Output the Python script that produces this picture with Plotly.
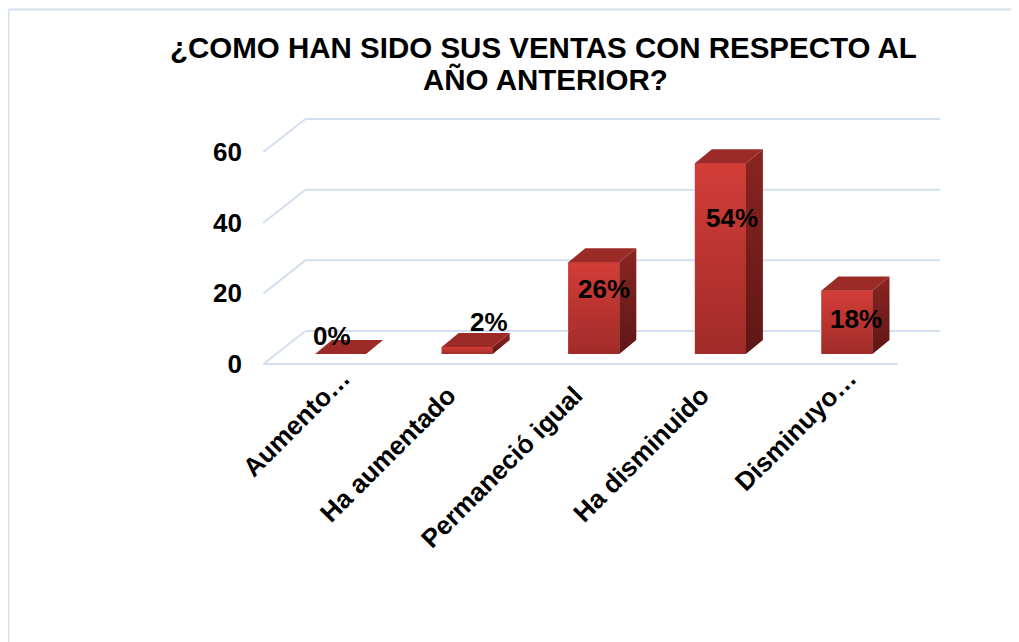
import plotly.graph_objects as go

# ---------------- data ----------------
categories = ["Aumento…", "Ha aumentado", "Permaneció igual", "Ha disminuido", "Disminuyo…"]
values = [0, 2, 26, 54, 18]
value_labels = ["0%", "2%", "26%", "54%", "18%"]
y_ticks = [0, 20, 40, 60]
title_lines = ["¿COMO HAN SIDO SUS VENTAS CON RESPECTO AL", "AÑO ANTERIOR?"]

# ---------------- geometry (pseudo 3D) ----------------
OFF = 8                                       # page body margin
W, H = 1019 - OFF, 642 - OFF
PL, PR, PT, PB = 263 - OFF, 946 - OFF, 110 - OFF, 382 - OFF   # plot area (figure px)
X0_PX, SX = 328.0 - OFF, 126.6               # pixel of x=0 on front plane, px per category
Y0_PX, SY = 364.0 - OFF, 3.533               # pixel of y=0 on front plane, px per unit
x_range = [(PL - X0_PX) / SX, (PR - X0_PX) / SX]
y_range = [(Y0_PX - PB) / SY, (Y0_PX - PT) / SY]

DDX = 42 / SX        # full depth shift in x units
DDY = 33 / SY        # full depth shift in y units
FLOOR_L, FLOOR_R = -0.51, 4.5
BAR_D0 = 0.30        # relative depth of bar front face
BAR_W = 51 / SX
BAR_DX = 17 / SX
BAR_DY = 14 / SY

GRID = "#D3DEEF"
FONT = "Liberation Sans, Arial, sans-serif"

fig = go.Figure()

# ---- walls / gridlines ----
for t in y_ticks:
    fig.add_trace(go.Scatter(x=[FLOOR_L + DDX, FLOOR_R + DDX], y=[t + DDY, t + DDY],
                             mode="lines", line=dict(color=GRID, width=2),
                             hoverinfo="skip", showlegend=False, cliponaxis=False))
    fig.add_trace(go.Scatter(x=[FLOOR_L, FLOOR_L + DDX], y=[t, t + DDY],
                             mode="lines", line=dict(color=GRID, width=2),
                             hoverinfo="skip", showlegend=False, cliponaxis=False))
fig.add_trace(go.Scatter(x=[FLOOR_L, FLOOR_R], y=[0, 0], mode="lines",
                         line=dict(color=GRID, width=2), hoverinfo="skip",
                         showlegend=False, cliponaxis=False))

# ---- bars ----
xc = [i + DDX * BAR_D0 for i in range(len(values))]
base = DDY * BAR_D0
fig.add_trace(go.Bar(x=xc, y=values, base=base, width=BAR_W,
                     marker=dict(color="#B8322E", line=dict(width=0)),
                     hoverinfo="skip", showlegend=False))

for i, v in enumerate(values):
    xl, xr = xc[i] - BAR_W / 2, xc[i] + BAR_W / 2
    top = base + v
    if v > 0:
        fig.add_trace(go.Scatter(x=[xl, xr, xr, xl, xl], y=[base, base, top, top, base],
                                 mode="lines", line=dict(width=0), fill="toself",
                                 fillgradient=dict(type="vertical",
                                                   colorscale=[[0, "#A02B28"], [1, "#D33D38"]]),
                                 hoverinfo="skip", showlegend=False))
        fig.add_trace(go.Scatter(x=[xr, xr + BAR_DX, xr + BAR_DX, xr, xr],
                                 y=[base, base + BAR_DY, top + BAR_DY, top, base],
                                 mode="lines", line=dict(width=0), fill="toself",
                                 fillgradient=dict(type="vertical",
                                                   colorscale=[[0, "#5E1715"], [1, "#8A2522"]]),
                                 hoverinfo="skip", showlegend=False))
    fig.add_trace(go.Scatter(x=[xl, xr, xr + BAR_DX, xl + BAR_DX, xl],
                             y=[top, top, top + BAR_DY, top + BAR_DY, top],
                             mode="lines", line=dict(width=0), fill="toself",
                             fillcolor="#9C2B28", hoverinfo="skip", showlegend=False))

# ---- value labels (placement tweaks mimic the original layout) ----
label_dx = [0.03, 0.27, 0.18, 0.19, 0.17]
label_dy = [7.8, 9.9, -4.8, -12.8, -5.3]
for i, v in enumerate(values):
    fig.add_annotation(x=i + label_dx[i], y=v + label_dy[i], text=value_labels[i],
                       showarrow=False, xanchor="center", yanchor="middle",
                       font=dict(family=FONT, size=26, color="black", weight="bold"))

# ---- title ----
def px_to_paper(px, py):
    return (px - PL) / (PR - PL), (PB - py) / (PB - PT)

for line, (cx, cy) in zip(title_lines, [(543.5 - OFF, 40), (545.5 - OFF, 72)]):
    ax, ay = px_to_paper(cx, cy)
    fig.add_annotation(x=ax, y=ay, xref="paper", yref="paper", text=line, showarrow=False,
                       xanchor="center", yanchor="middle",
                       font=dict(family=FONT, size=29.5, color="black", weight="bold"))

# ---- outer chart border (left and top edges visible) ----
bx0, by0 = px_to_paper(0.5, 1.5)
bx1, by1 = px_to_paper(W + 5, H + 5)
fig.add_shape(type="line", xref="paper", yref="paper", x0=bx0, y0=by0, x1=bx0, y1=by1,
              line=dict(color="#D5E0F0", width=2))
fig.add_shape(type="line", xref="paper", yref="paper", x0=bx0, y0=by0, x1=bx1, y1=by0,
              line=dict(color="#D5E0F0", width=2))

# ---- category labels: plain ones on x, truncated ones ("…") on an overlay axis ----
tick_shift = {False: -0.049, True: 0.115}
plain = [i for i, c in enumerate(categories) if not c.endswith("…")]
trunc = [i for i, c in enumerate(categories) if c.endswith("…")]
tickfont = dict(family=FONT, size=26, color="black", weight="bold")
common_x = dict(range=x_range, tickmode="array", tickangle=-45, showgrid=False,
                zeroline=False, showline=False, ticks="", fixedrange=True, tickfont=tickfont)

fig.update_layout(
    width=W, height=H,
    margin=dict(l=PL, r=W - PR, t=PT, b=H - PB, autoexpand=False),
    paper_bgcolor="white", plot_bgcolor="rgba(0,0,0,0)",
    showlegend=False, barmode="overlay",
    xaxis=dict(**common_x, tickvals=[i + tick_shift[False] for i in plain],
               ticktext=[categories[i] for i in plain], ticklabelstandoff=-8),
    xaxis2=dict(**common_x, overlaying="x", side="bottom", anchor="y",
                tickvals=[i + tick_shift[True] for i in trunc],
                ticktext=[categories[i] for i in trunc], ticklabelstandoff=-25),
    yaxis=dict(range=y_range, tickmode="array", tickvals=y_ticks,
               ticktext=[str(t) for t in y_ticks], showgrid=False, zeroline=False,
               showline=False, ticks="", ticklabelstandoff=20, fixedrange=True,
               tickfont=tickfont),
)
# invisible trace so the overlay axis is drawn
fig.add_trace(go.Scatter(x=[x_range[0]], y=[y_range[0]], xaxis="x2", mode="markers",
                         marker=dict(opacity=0), hoverinfo="skip", showlegend=False))

fig.write_html("out.html")
